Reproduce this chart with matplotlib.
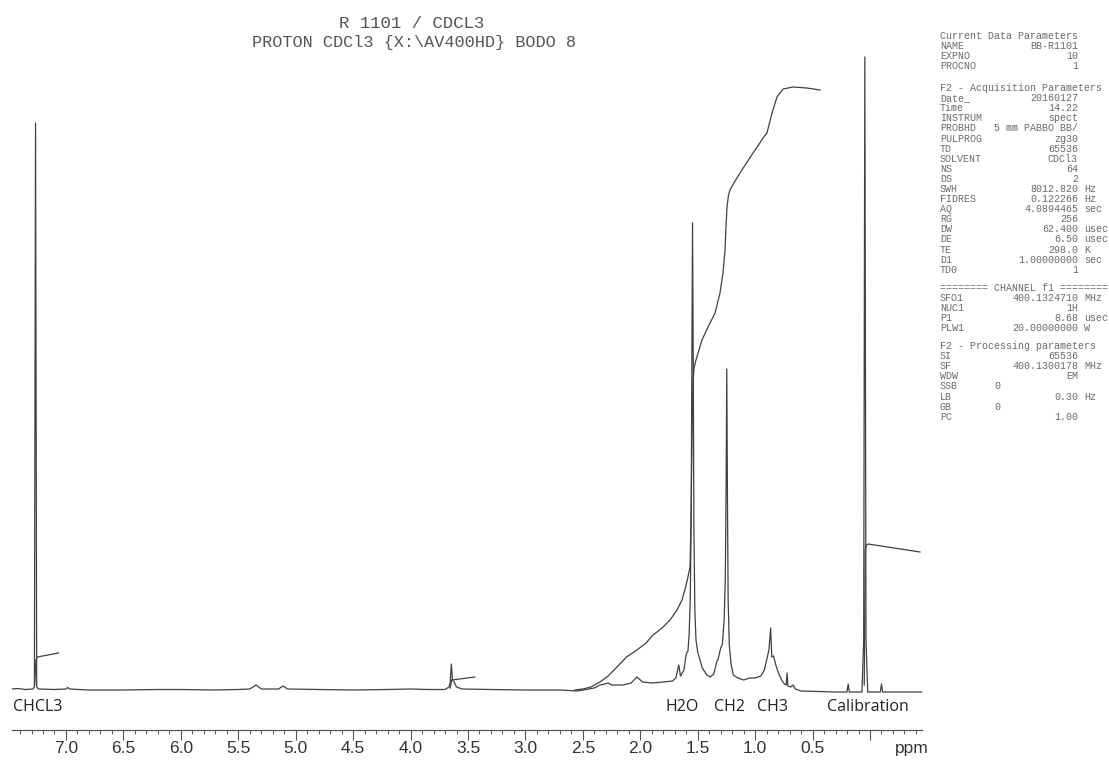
import matplotlib
matplotlib.use("Agg")
import matplotlib.pyplot as plt
import numpy as np

# ---------------- data ----------------
# 1H spectrum trace: chemical shift (ppm) and intensity (arbitrary units, baseline = 0)
spec_ppm = [7.47, 7.42, 7.35, 7.29, 7.275, 7.265, 7.255, 7.24, 7.10, 7.00, 6.985, 6.97,
            6.80, 6.50, 6.20, 6.00, 5.70, 5.50, 5.40, 5.345, 5.30, 5.15, 5.11, 5.07,
            4.80, 4.50, 4.20, 4.00, 3.85,
            3.70, 3.665, 3.655, 3.645, 3.635, 3.625, 3.60, 3.55, 3.30, 3.00, 2.70, 2.55,
            2.40, 2.35, 2.31, 2.28, 2.25, 2.15, 2.08, 2.03, 1.98, 1.90, 1.80, 1.72,
            1.69, 1.665, 1.65, 1.62, 1.60, 1.585, 1.575, 1.565, 1.557, 1.551, 1.545,
            1.539, 1.533, 1.525, 1.515, 1.50, 1.46, 1.42, 1.39, 1.36, 1.335, 1.32,
            1.30, 1.285, 1.27, 1.26, 1.253, 1.247, 1.241, 1.235, 1.225, 1.21, 1.19,
            1.15, 1.10, 1.05, 1.00, 0.95, 0.92, 0.90,
            0.88, 0.865, 0.855, 0.84, 0.82, 0.80, 0.77, 0.745, 0.73, 0.722, 0.715,
            0.69, 0.67, 0.65, 0.60, 0.45, 0.30, 0.20, 0.19, 0.18, 0.07, 0.055, 0.045,
            0.035, 0.02, -0.09, -0.10, -0.11, -0.30, -0.45]
spec_int = [1, 1.5, 0.5, 1, 3, 567, 3, 1, 0.5, 1, 2.5, 1,
            0, 0, 0.5, 0.5, 0, 0.5, 1, 5, 1, 1, 4, 1,
            0.5, 0, 0.5, 1, 0.5,
            0.5, 3, 8, 26, 10, 9, 3, 1, 0.5, 0, 0, -1,
            2, 5, 6, 7, 5, 5, 7, 13, 8, 7, 8, 9,
            12, 25, 14, 20, 36, 39, 55, 90, 170, 330, 467,
            330, 160, 80, 50, 38, 22, 15, 13, 16, 28, 32,
            42, 46, 70, 110, 200, 321, 190, 90, 45, 26, 15,
            12, 10, 12, 12, 14, 20, 30,
            40, 62, 33, 34, 25, 18, 10, 6, 5, 17, 4,
            3, 5, 1, -1, -1.5, -2, -2, 6, -2, -2, 50, 633,
            50, -2, -2, 6, -2, -2, -2]

# integral traces
int1_ppm = [7.272, 7.262, 7.25, 7.065]
int1_val = [5, 30, 33, 37]
int2_ppm = [3.655, 3.642, 3.44]
int2_val = [2, 10, 13]
int3_ppm = [2.57, 2.50, 2.43, 2.351, 2.28, 2.203, 2.12, 2.029, 1.95, 1.889, 1.81,
            1.741, 1.68, 1.637, 1.605, 1.585, 1.567, 1.557, 1.55, 1.542, 1.532,
            1.515, 1.497, 1.463, 1.41, 1.349, 1.306, 1.280, 1.262, 1.254, 1.245,
            1.232, 1.219, 1.18, 1.132, 1.07, 1.019, 0.97, 0.932, 0.897, 0.853,
            0.810, 0.757, 0.670, 0.549, 0.435]
int3_val = [0, 1, 3, 8, 14, 23, 33, 40, 47, 55, 62,
            70, 80, 90, 103, 113, 123, 180, 250, 305, 322,
            330, 337, 350, 363, 377, 397, 417, 440, 463, 483,
            495, 500, 508, 517, 528, 537, 545, 552, 557, 577,
            593, 601, 603, 602, 600]
int4_ppm = [0.05, 0.042, 0.03, 0.017, -0.435]
int4_val = [5, 140, 145, 146, 138]

# peak labels
label_names = ["CHCL3", "H2O", "CH2", "CH3", "Calibration"]
label_ppm = [7.25, 1.637, 1.219, 0.853, 0.017]

# axis ticks
major_ticks = [7.0, 6.5, 6.0, 5.5, 5.0, 4.5, 4.0, 3.5, 3.0, 2.5, 2.0, 1.5, 1.0, 0.5, 0.0]
major_labels = ["7.0", "6.5", "6.0", "5.5", "5.0", "4.5", "4.0", "3.5", "3.0",
                "2.5", "2.0", "1.5", "1.0", "0.5", ""]

title_lines = ["R 1101 / CDCL3", "PROTON CDCl3 {X:\\AV400HD} BODO 8"]

# acquisition parameters (label, value, unit)
param_groups = [
    [("Current Data Parameters", None, None),
     ("NAME", "BB-R1101", None), ("EXPNO", "10", None), ("PROCNO", "1", None)],
    [("F2 - Acquisition Parameters", None, None),
     ("Date_", "20160127", None), ("Time", "14.22", None), ("INSTRUM", "spect", None),
     ("PROBHD", "5 mm PABBO BB/", None), ("PULPROG", "zg30", None), ("TD", "65536", None),
     ("SOLVENT", "CDCl3", None), ("NS", "64", None), ("DS", "2", None),
     ("SWH", "8012.820", "Hz"), ("FIDRES", "0.122266", "Hz"), ("AQ", "4.0894465", "sec"),
     ("RG", "256", None), ("DW", "62.400", "usec"), ("DE", "6.50", "usec"),
     ("TE", "298.0", "K"), ("D1", "1.00000000", "sec"), ("TD0", "1", None)],
    [("======== CHANNEL f1 ========", None, None),
     ("SFO1", "400.1324710", "MHz"), ("NUC1", "1H", None), ("P1", "8.68", "usec"),
     ("PLW1", "20.00000000", "W")],
    [("F2 - Processing parameters", None, None),
     ("SI", "65536", None), ("SF", "400.1300178", "MHz"), ("WDW", "EM", None),
     ("SSB", "0", "left"), ("LB", "0.30", "Hz"), ("GB", "0", "left"), ("PC", "1.00", None)],
]
group_start_px = [36, 88, 288, 346]

# ---------------- figure ----------------
W, H = 1109, 760
fig = plt.figure(figsize=(W / 100, H / 100), dpi=100)
ax = fig.add_axes([12 / W, (H - 730) / H, 910 / W, 700 / H])

line_col = "#404040"
ax.plot(spec_ppm, spec_int, color=line_col, lw=0.9)
for xp, yv in [(int1_ppm, int1_val), (int2_ppm, int2_val), (int3_ppm, int3_val), (int4_ppm, int4_val)]:
    ax.plot(xp, yv, color=line_col, lw=0.9)

ax.set_xlim(7.470, -0.4527)
ax.set_ylim(-40, 660)
for s in ["top", "left", "right"]:
    ax.spines[s].set_visible(False)
ax.spines["bottom"].set_color("#555555")
ax.spines["bottom"].set_linewidth(0.9)
ax.set_yticks([])
ax.set_xticks(major_ticks)
ax.set_xticklabels(major_labels)
ax.set_xticks(np.round(np.arange(-0.4, 7.45, 0.1), 2), minor=True)
ax.tick_params(axis="x", which="major", direction="out", length=7.2, width=0.8,
               color="#555555", pad=1, labelsize=12.5, labelcolor="#333333")
ax.tick_params(axis="x", which="minor", direction="out", length=2.8, width=0.7,
               color="#555555")
for lab in ax.get_xticklabels():
    lab.set_family(["Liberation Sans", "DejaVu Sans"])

fig.text(912 / W, 1 - 741 / H, "ppm", ha="center", va="top", fontsize=12.5,
         color="#333333", family=["Liberation Sans", "DejaVu Sans"])

for name, p in zip(label_names, label_ppm):
    ax.text(p, -17, name, ha="center", va="center", fontsize=11.5, color="#222222",
            family=["Open Sans", "DejaVu Sans"])

# title
fig.text(412 / W, 1 - 23.5 / H, title_lines[0], ha="center", va="center",
         fontsize=12.5, color="#555555", family=["Liberation Mono", "DejaVu Sans Mono"])
fig.text(414 / W, 1 - 42 / H, title_lines[1], ha="center", va="center",
         fontsize=12.2, color="#555555", family=["Liberation Mono", "DejaVu Sans Mono"])

# parameter block
x0 = 940
cw = 6.0
pfont = dict(fontsize=7.2, color="#6a6a6a", family=["Liberation Mono", "DejaVu Sans Mono"],
             va="center")
for g, y0 in zip(param_groups, group_start_px):
    for i, (lab, val, unit) in enumerate(g):
        y = 1 - (y0 + i * 10.1) / H
        fig.text(x0 / W, y, lab, ha="left", **pfont)
        if val is not None:
            if unit == "left":
                fig.text((x0 + 9 * cw) / W, y, val, ha="left", **pfont)
            else:
                fig.text((x0 + 23 * cw) / W, y, val, ha="right", **pfont)
                if unit:
                    fig.text((x0 + 24 * cw) / W, y, unit, ha="left", **pfont)

fig.savefig("out.png", dpi=100)
